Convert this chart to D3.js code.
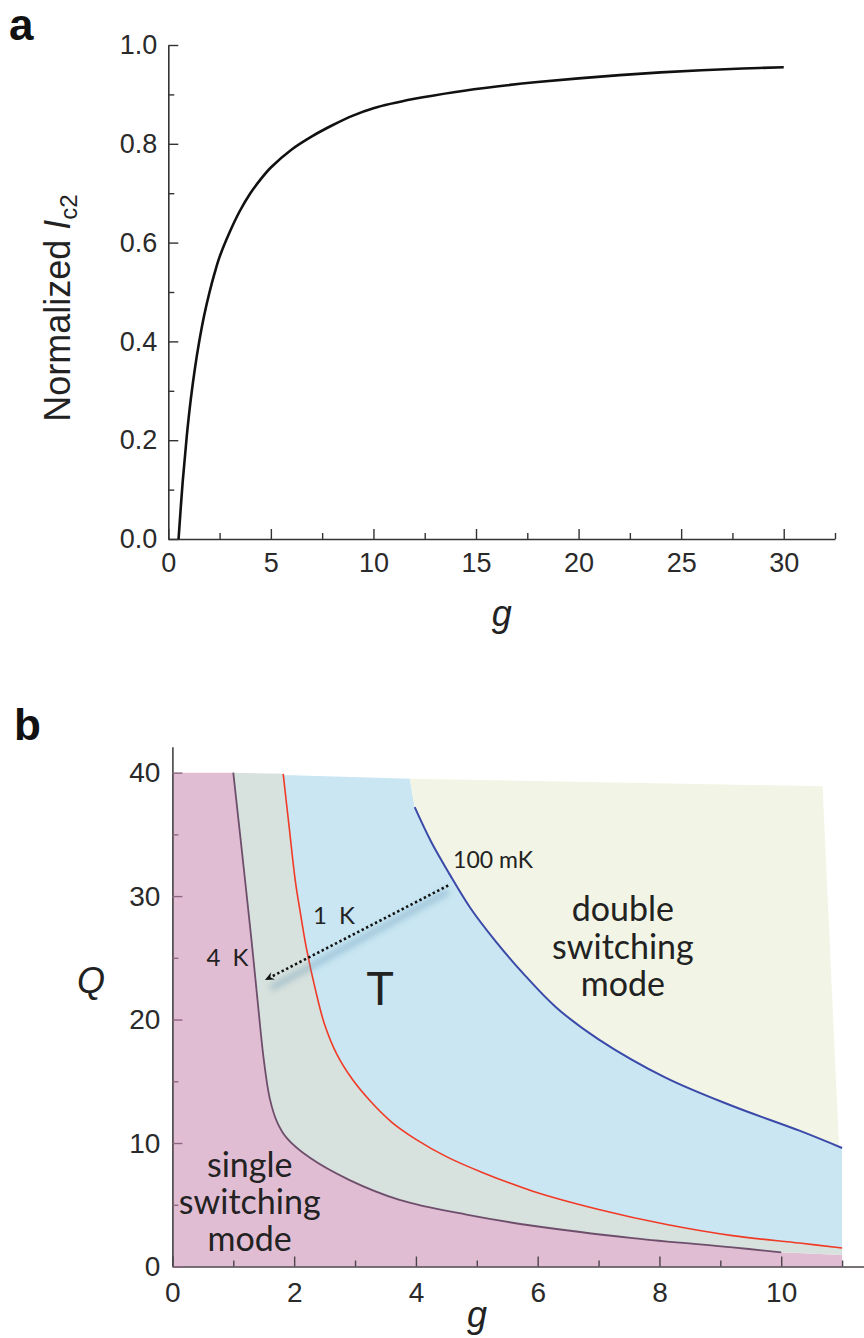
<!DOCTYPE html>
<html>
<head>
<meta charset="utf-8">
<script src="https://cdn.jsdelivr.net/npm/d3@7"></script>
<style>
  html, body { margin: 0; padding: 0; background: #fff; }
  svg { display: block; }
</style>
</head>
<body>
<div id="chart"></div>
<script>
// ---- panel a data: normalized Ic2 against g ----
const gA = [0.5, 0.7, 0.9, 1.1, 1.3, 1.5, 1.75, 2.0, 2.25, 2.5, 3.0, 3.5, 4.0, 4.5, 5.0, 6.0, 7.0, 8.0, 9.0, 10, 12, 14, 16, 18, 20, 22, 24, 26, 28, 30]
const ic2 = [0, 0.115, 0.208, 0.284, 0.346, 0.398, 0.453, 0.498, 0.537, 0.571, 0.622, 0.665, 0.7, 0.728, 0.752, 0.788, 0.815, 0.8375, 0.857, 0.872, 0.891, 0.905, 0.916, 0.925, 0.9325, 0.939, 0.9445, 0.949, 0.9525, 0.955]
const aXTicks = [0, 5, 10, 15, 20, 25, 30]
const aXMinor = [2.5, 7.5, 12.5, 17.5, 22.5, 27.5, 32.5]
const aYTicks = [0, 0.2, 0.4, 0.6, 0.8, 1.0]
const aYMinor = [0.1, 0.3, 0.5, 0.7, 0.9]

// ---- panel b data: Q against g boundaries for three temperatures ----
const k4 = [[1.0, 40], [1.1, 35.5], [1.2, 31], [1.3, 26.4], [1.4, 21.5], [1.5, 16.8], [1.6, 13.6], [1.72, 11.7], [1.88, 10.4], [2.26, 8.8], [2.91, 7.0], [3.73, 5.4], [4.83, 4.2], [5.92, 3.3], [7.56, 2.3], [9.2, 1.55], [10.0, 1.15]]
const k1 = [[1.82, 39.9], [1.92, 35.5], [2.02, 31.2], [2.11, 28.4], [2.2, 25.8], [2.35, 22.4], [2.5, 19.6], [2.7, 17.2], [2.95, 15.2], [3.25, 13.4], [3.6, 11.7], [4.0, 10.3], [4.5, 8.9], [5.1, 7.6], [5.92, 6.1], [7.02, 4.6], [8.12, 3.4], [9.2, 2.5], [10.3, 1.9], [11.0, 1.5]]
const mk100 = [[3.98, 37.2], [4.25, 34.4], [4.55, 31.8], [4.9, 29.0], [5.3, 26.4], [5.75, 23.8], [6.3, 21.0], [7.0, 18.4], [8.1, 15.3], [9.2, 13.0], [10.3, 11.0], [11.0, 9.6]]
const topEdge = [[0, 40], [1.0, 39.9], [1.82, 39.8], [3.9, 39.5], [10.68, 38.9]]
const creamRight = [[10.95, 9.65], [10.68, 38.9]]
const arrowFrom = [4.53, 30.86]
const arrowTo = [1.52, 23.2]
const bXTicks = [0, 2, 4, 6, 8, 10]
const bXMinor = [1, 3, 5, 7, 9, 11]
const bYTicks = [0, 10, 20, 30, 40]
const bYMinor = [5, 15, 25, 35]

const W = 864, H = 1338
const sans = "'Liberation Sans', Arial, Helvetica, sans-serif"
const humanist = "Lato, 'Open Sans', sans-serif"

const svg = d3.select("#chart").append("svg")
  .attr("width", W)
  .attr("height", H)

// =================== panel a ===================
const xa = d3.scaleLinear().domain([0, 32.5]).range([168.3, 835])
const ya = d3.scaleLinear().domain([0, 1]).range([539, 45])

const ga = svg.append("g")

function styleAxis(g, color, size) {
  g.select(".domain").attr("stroke", color).attr("stroke-width", 1.6)
  g.selectAll(".tick line").attr("stroke", color).attr("stroke-width", 1.4)
  g.selectAll(".tick text")
    .attr("fill", "#2a2a2a")
    .style("font-family", sans)
    .style("font-size", size + "px")
}

const axA = ga.append("g").attr("transform", `translate(0,${ya(0)})`)
  .call(d3.axisBottom(xa).tickValues(aXTicks).tickSize(-10).tickSizeOuter(0).tickPadding(14))
styleAxis(axA, "#333", 27)
ga.append("g").attr("transform", `translate(0,${ya(0)})`)
  .call(d3.axisBottom(xa).tickValues(aXMinor).tickSize(-6).tickFormat(""))
  .call(g => g.select(".domain").remove())
  .call(g => g.selectAll("line").attr("stroke", "#333").attr("stroke-width", 1.4))

const ayA = ga.append("g").attr("transform", `translate(${xa(0)},0)`)
  .call(d3.axisLeft(ya).tickValues(aYTicks).tickSize(-10).tickSizeOuter(0).tickPadding(11).tickFormat(d3.format(".1f")))
styleAxis(ayA, "#333", 27)
ga.append("g").attr("transform", `translate(${xa(0)},0)`)
  .call(d3.axisLeft(ya).tickValues(aYMinor).tickSize(-6).tickFormat(""))
  .call(g => g.select(".domain").remove())
  .call(g => g.selectAll("line").attr("stroke", "#333").attr("stroke-width", 1.4))

ga.append("path")
  .datum(gA.map((g, i) => [g, ic2[i]]))
  .attr("fill", "none")
  .attr("stroke", "#111")
  .attr("stroke-width", 2.6)
  .attr("d", d3.line().x(d => xa(d[0])).y(d => ya(d[1])).curve(d3.curveCatmullRom.alpha(0.5)))

// axis titles
const yl = ga.append("text")
  .attr("transform", `translate(70,${308}) rotate(-90)`)
  .attr("text-anchor", "middle")
  .attr("fill", "#222")
  .style("font-family", sans)
  .style("font-size", "36px")
yl.append("tspan").text("Normalized ")
yl.append("tspan").style("font-style", "italic").text("I")
yl.append("tspan").attr("dy", 7).style("font-size", "24px").text("c2")

ga.append("text")
  .attr("x", (xa(0) + xa(32.5)) / 2).attr("y", 626)
  .attr("text-anchor", "middle")
  .attr("fill", "#222")
  .style("font-family", sans).style("font-style", "italic").style("font-size", "36px")
  .text("g")

ga.append("text")
  .attr("x", 9).attr("y", 40)
  .attr("fill", "#111")
  .style("font-family", sans).style("font-weight", "bold").style("font-size", "44px")
  .text("a")

// =================== panel b ===================
const xb = d3.scaleLinear().domain([0, 11.36]).range([172.4, 864])
const yb = d3.scaleLinear().domain([0, 42.1]).range([1266.5, 746.7])
const gb = svg.append("g")

const poly = pts => "M" + pts.map(p => `${xb(p[0])},${yb(p[1])}`).join("L") + "Z"
const rev = a => a.slice().reverse()

// layered fills
gb.append("path").attr("fill", "#e1bdd4")
  .attr("d", poly([[0, 0], [0, 40], ...k4, [11, 0.93], [11, 0]]))
gb.append("path").attr("fill", "#d7e1dd")
  .attr("d", poly([...k4, [11, 0.93], [11, 1.5], ...rev(k1)]))
gb.append("path").attr("fill", "#c9e6f2")
  .attr("d", poly([...k1, [11, 9.6], ...rev(mk100), topEdge[3], topEdge[2]]))
gb.append("path").attr("fill", "#f2f5e5")
  .attr("d", poly([topEdge[3], ...mk100.slice(0, -1), ...creamRight, topEdge[4]]))

const lineB = d3.line().x(d => xb(d[0])).y(d => yb(d[1])).curve(d3.curveCatmullRom.alpha(0.5))

gb.append("path").datum(k4).attr("fill", "none")
  .attr("stroke", "#6d4f6c").attr("stroke-width", 1.8).attr("d", lineB)
gb.append("path").datum(k1).attr("fill", "none")
  .attr("stroke", "#f03a26").attr("stroke-width", 1.6).attr("d", lineB)
gb.append("path").datum(mk100).attr("fill", "none")
  .attr("stroke", "#3b4aa8").attr("stroke-width", 2).attr("d", lineB)

// arrow with soft shadow
const defs = svg.append("defs")
defs.append("filter").attr("id", "blur").attr("x", "-20%").attr("y", "-50%").attr("width", "140%").attr("height", "200%")
  .append("feGaussianBlur").attr("stdDeviation", 3)

const ax0 = xb(arrowFrom[0]), ay0 = yb(arrowFrom[1])
const ax1 = xb(arrowTo[0]), ay1 = yb(arrowTo[1])
gb.append("line")
  .attr("x1", ax0).attr("y1", ay0 + 6).attr("x2", ax1 + 6).attr("y2", ay1 + 8)
  .attr("stroke", "#5b8fb0").attr("stroke-opacity", 0.4).attr("stroke-width", 6)
  .attr("filter", "url(#blur)")
const ang = Math.atan2(ay1 - ay0, ax1 - ax0)
const hl = 10
gb.append("line")
  .attr("x1", ax0).attr("y1", ay0)
  .attr("x2", ax1 - Math.cos(ang) * hl * 0.6).attr("y2", ay1 - Math.sin(ang) * hl * 0.6)
  .attr("stroke", "#111").attr("stroke-width", 2.6).attr("stroke-dasharray", "2.4,2.6")
gb.append("path")
  .attr("fill", "#111")
  .attr("d", `M${ax1},${ay1}` +
    `L${ax1 - hl * Math.cos(ang - 0.42)},${ay1 - hl * Math.sin(ang - 0.42)}` +
    `L${ax1 - hl * 0.6 * Math.cos(ang)},${ay1 - hl * 0.6 * Math.sin(ang)}` +
    `L${ax1 - hl * Math.cos(ang + 0.42)},${ay1 - hl * Math.sin(ang + 0.42)}Z`)

// axes
const axB = gb.append("g").attr("transform", `translate(0,${yb(0)})`)
  .call(d3.axisBottom(xb).tickValues(bXTicks).tickSize(-10).tickSizeOuter(0).tickPadding(16))
styleAxis(axB, "#4a4448", 28)
gb.append("g").attr("transform", `translate(0,${yb(0)})`)
  .call(d3.axisBottom(xb).tickValues(bXMinor).tickSize(-6).tickFormat(""))
  .call(g => g.select(".domain").remove())
  .call(g => g.selectAll("line").attr("stroke", "#4a4448").attr("stroke-width", 1.4))

const ayB = gb.append("g").attr("transform", `translate(${xb(0)},0)`)
  .call(d3.axisLeft(yb).tickValues(bYTicks).tickSize(-10).tickSizeOuter(0).tickPadding(12))
styleAxis(ayB, "#8c6682", 28)
ayB.select(".domain").attr("stroke", "#444")
gb.append("g").attr("transform", `translate(${xb(0)},0)`)
  .call(d3.axisLeft(yb).tickValues(bYMinor).tickSize(-6).tickFormat(""))
  .call(g => g.select(".domain").remove())
  .call(g => g.selectAll("line").attr("stroke", "#8c6682").attr("stroke-width", 1.4))

// annotations (positions given in data units)
function note(g, q, lines, size, anchor, lh) {
  const t = gb.append("text")
    .attr("text-anchor", anchor)
    .attr("fill", "#222")
    .style("font-family", humanist)
    .style("font-size", size + "px")
  lines.forEach((s, i) => {
    t.append("tspan").attr("x", xb(g)).attr("y", yb(q) + i * (lh || 0)).text(s)
  })
}
note(4.61, 32.3, ["100 mK"], 23, "start")
note(2.31, 27.7, ["1\u2002K"], 24, "start")
note(0.56, 24.3, ["4\u2002K"], 24, "start")
note(3.41, 21.2, ["T"], 46, "middle")
note(7.4, 27.95, ["double", "switching", "mode"], 34, "middle", 37.5)
note(1.27, 7.26, ["single", "switching", "mode"], 34, "middle", 37)

gb.append("text")
  .attr("x", 91).attr("y", 993)
  .attr("text-anchor", "middle")
  .attr("fill", "#222")
  .style("font-family", sans).style("font-style", "italic").style("font-size", "36px")
  .text("Q")
gb.append("text")
  .attr("x", 477).attr("y", 1327)
  .attr("text-anchor", "middle")
  .attr("fill", "#222")
  .style("font-family", sans).style("font-style", "italic").style("font-size", "36px")
  .text("g")
gb.append("text")
  .attr("x", 14).attr("y", 740)
  .attr("fill", "#111")
  .style("font-family", sans).style("font-weight", "bold").style("font-size", "44px")
  .text("b")
</script>
</body>
</html>
